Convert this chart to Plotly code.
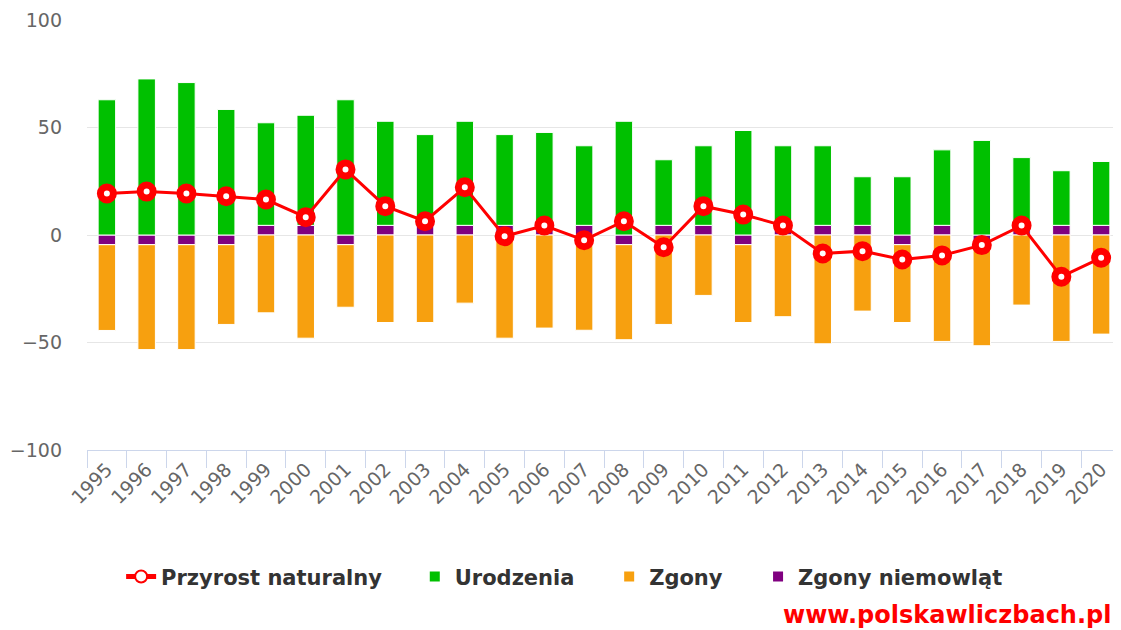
import plotly.graph_objects as go

years = [str(y) for y in range(1995, 2021)]

# births (green), deaths (orange), infant deaths (purple), natural increase (red line)
urodzenia = [62.9, 72.6, 70.9, 58.4, 47.7, 51.2, 62.9, 48.4, 42.2, 48.4, 42.2, 43.2, 37.0,
             52.9, 30.5, 37.0, 48.6, 37.0, 37.0, 22.6, 27.1, 35.1, 44.0, 31.5, 25.4, 29.7]
zgony = [-39.9, -48.8, -48.8, -37.1, -36.2, -48.0, -29.1, -40.7, -40.7, -31.7, -48.0, -43.3, -44.3,
         -44.2, -41.6, -28.1, -36.2, -38.0, -50.6, -35.4, -36.2, -49.5, -47.0, -32.6, -49.5, -46.1]
zgony_niemowlat = [-4.5, -4.5, -4.5, -4.5, 4.5, 4.5, -4.5, 4.5, 4.5, 4.5, 4.5, 4.5, 4.5,
                   -4.5, 4.5, 4.5, -4.5, 4.5, 4.5, 4.5, -4.5, 4.5, -4.5, 4.5, 4.5, 4.5]
przyrost = [19.3, 20.2, 19.3, 18.0, 16.5, 8.3, 30.5, 13.4, 6.4, 22.2, -0.6, 4.4, -2.4,
            6.4, -5.7, 13.4, 9.5, 4.4, -8.6, -7.5, -11.4, -9.5, -4.7, 4.4, -19.4, -10.6]

font = "DejaVu Sans, Verdana, sans-serif"
bar_line = dict(color="white", width=1)

fig = go.Figure()

# first trace sits next to zero in relative stacking
fig.add_trace(go.Bar(x=years, y=zgony_niemowlat, name="Zgony niemowląt", legend="legend4",
                     marker=dict(color="#800080", line=bar_line)))
fig.add_trace(go.Bar(x=years, y=urodzenia, name="Urodzenia", legend="legend2",
                     marker=dict(color="#00c000", line=bar_line)))
fig.add_trace(go.Bar(x=years, y=zgony, name="Zgony", legend="legend3",
                     marker=dict(color="#f7a00f", line=bar_line)))
fig.add_trace(go.Scatter(x=years, y=przyrost, name="Przyrost naturalny", legend="legend",
                         mode="lines+markers",
                         line=dict(color="#ff0000", width=3),
                         marker=dict(symbol="circle", size=13, color="white",
                                     line=dict(color="#ff0000", width=7))))


def legend_box(x):
    return dict(x=x, xanchor="left", y=-0.295, yanchor="middle", orientation="h",
                bgcolor="rgba(0,0,0,0)", itemsizing="constant",
                font=dict(family=font, size=21, color="#333333", weight="bold"))


# page body has an 8px margin, so the figure is sized/margined to land on the window
fig.update_layout(
    width=1113, height=622,
    margin=dict(l=79, r=0, t=12, b=180),
    paper_bgcolor="white", plot_bgcolor="white",
    barmode="relative", bargap=0.56,
    font=dict(family=font, color="#666666"),
    showlegend=True,
    legend=legend_box(0.033),
    legend2=legend_box(0.317),
    legend3=legend_box(0.505),
    legend4=legend_box(0.649),
    annotations=[dict(text="<b>www.polskawliczbach.pl</b>", xref="paper", yref="paper",
                      x=0.992, y=-0.384, xanchor="right", yanchor="middle", showarrow=False,
                      font=dict(family=font, size=24, color="#ff0000"))],
)

fig.update_xaxes(type="category", range=[-0.5, len(years) - 0.5], tickson="boundaries",
                 ticks="outside", ticklen=17, tickcolor="#ccd6eb", tickwidth=1, showline=True,
                 linecolor="#ccd6eb", linewidth=1, showgrid=False, tickangle=-45,
                 automargin=False, tickfont=dict(family=font, size=19, color="#666666"))
fig.update_yaxes(range=[-100, 100], tickvals=[-100, -50, 0, 50, 100], showgrid=True,
                 gridcolor="#e6e6e6", gridwidth=1, zeroline=True, zerolinecolor="#e6e6e6",
                 zerolinewidth=1, ticklabelstandoff=24, automargin=False,
                 tickfont=dict(family=font, size=19, color="#666666"))

fig.write_html("out.html")
